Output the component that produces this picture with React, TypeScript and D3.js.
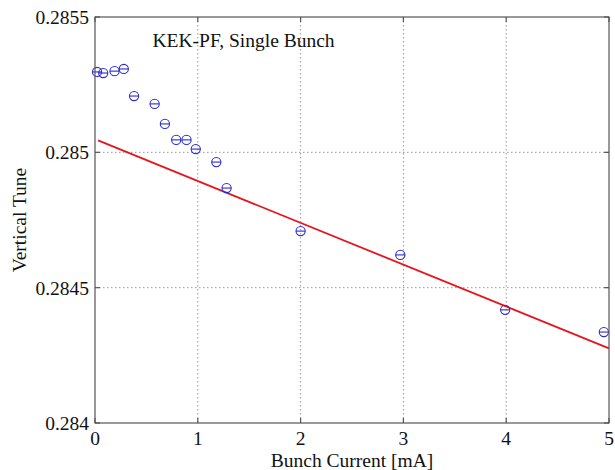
import React from "react";
import * as d3 from "d3";

const currents = [0.02, 0.08, 0.19, 0.28, 0.38, 0.58, 0.68, 0.79, 0.89, 0.98, 1.18, 1.28, 2.0, 2.97, 3.99, 4.95];
const tunes = [0.285297, 0.285293, 0.2853, 0.285308, 0.285208, 0.285179, 0.285105, 0.285046, 0.285046, 0.285012, 0.284964, 0.284868, 0.284709, 0.284621, 0.284418, 0.284336];
const fitX = [0.03, 5];
const fitY = [0.285044, 0.284276];
const xTicks = [0, 1, 2, 3, 4, 5];
const yTicks = [0.284, 0.2845, 0.285, 0.2855];
const yTickLabels = ["0.284", "0.2845", "0.285", "0.2855"];

const W = 615, H = 470;
const L = 95, R = 609, T = 17, B = 423;
const FONT = "'Liberation Serif', 'Times New Roman', serif";

export default function App() {
  const x = d3.scaleLinear().domain([0, 5]).range([L, R]);
  const y = d3.scaleLinear().domain([0.284, 0.2855]).range([B, T]);
  const line = d3.line<number>().x((_, i) => x(fitX[i])).y((d) => y(d));
  const r = 4.6;
  const axisColor = "#555";
  const gridColor = "#999";
  const textColor = "#111";
  return (
    <svg width={W} height={H} style={{ position: "absolute", left: 0, top: 0, background: "#fff" }}>
      <rect x={0} y={0} width={W} height={H} fill="#fff" />
      {/* grid */}
      {xTicks.slice(1, -1).map((t) => (
        <line key={"gx" + t} x1={x(t)} x2={x(t)} y1={T} y2={B} stroke={gridColor} strokeWidth={1} strokeDasharray="1.5,2.5" />
      ))}
      {yTicks.slice(1, -1).map((t) => (
        <line key={"gy" + t} x1={L} x2={R} y1={y(t)} y2={y(t)} stroke={gridColor} strokeWidth={1} strokeDasharray="1.5,2.5" />
      ))}
      {/* fit line */}
      <path d={line(fitY) || ""} fill="none" stroke="#e8141b" strokeWidth={1.8} />
      {/* data markers */}
      {currents.map((c, i) => (
        <g key={"p" + i}>
          <circle cx={x(c)} cy={y(tunes[i])} r={r} fill="none" stroke="#2a2ad0" strokeWidth={1.1} />
          <line x1={x(c) - r} x2={x(c) + r} y1={y(tunes[i])} y2={y(tunes[i])} stroke="#2a2ad0" strokeWidth={1.1} />
        </g>
      ))}
      {/* axes box */}
      <rect x={L} y={T} width={R - L} height={B - T} fill="none" stroke={axisColor} strokeWidth={1.2} />
      {/* ticks */}
      {xTicks.map((t) => (
        <g key={"tx" + t}>
          <line x1={x(t)} x2={x(t)} y1={B} y2={B - 5} stroke={axisColor} strokeWidth={1.2} />
          <line x1={x(t)} x2={x(t)} y1={T} y2={T + 5} stroke={axisColor} strokeWidth={1.2} />
          <text x={x(t)} y={445} textAnchor="middle" fontFamily={FONT} fontSize={19.5} fill={textColor}>{t}</text>
        </g>
      ))}
      {yTicks.map((t, i) => (
        <g key={"ty" + t}>
          <line x1={L} x2={L + 5} y1={y(t)} y2={y(t)} stroke={axisColor} strokeWidth={1.2} />
          <line x1={R} x2={R - 5} y1={y(t)} y2={y(t)} stroke={axisColor} strokeWidth={1.2} />
          <text x={89} y={y(t) + 7} textAnchor="end" fontFamily={FONT} fontSize={19.5} fill={textColor}>{yTickLabels[i]}</text>
        </g>
      ))}
      <text x={(L + R) / 2} y={467} textAnchor="middle" fontFamily={FONT} fontSize={19.5} fill={textColor}>Bunch Current [mA]</text>
      <text transform={`translate(26,${(T + B) / 2}) rotate(-90)`} textAnchor="middle" fontFamily={FONT} fontSize={19.5} fill={textColor}>Vertical Tune</text>
      <text x={152.5} y={46.5} fontFamily={FONT} fontSize={19.5} fill={textColor}>KEK-PF, Single Bunch</text>
    </svg>
  );
}
